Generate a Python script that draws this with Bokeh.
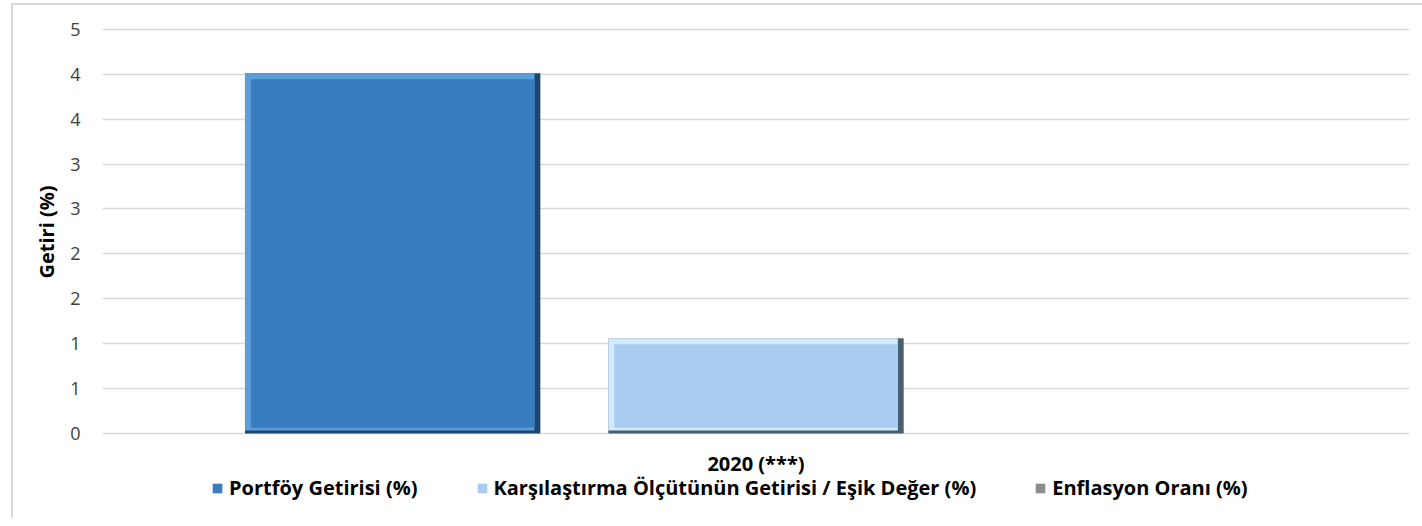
from bokeh.plotting import figure
from bokeh.models import (FactorRange, Range1d, FixedTicker, CustomJSTickFormatter,
                          Legend, LegendItem, ColumnDataSource, Title)
from bokeh.transform import dodge
from bokeh.core.properties import value
from bokeh.embed import file_html
from bokeh.resources import INLINE

# ---- data ----
categories = ["2020 (***)"]
series_names = ["Portföy Getirisi (%)",
                "Karşılaştırma Ölçütünün Getirisi / Eşik Değer (%)",
                "Enflasyon Oranı (%)"]
portfoy = [4.01]
karsilastirma = [1.06]
enflasyon = [0.0]
y_ticks = [0, 0.5, 1, 1.5, 2, 2.5, 3, 3.5, 4, 4.5]

# ---- styles ----
FONT = "Open Sans"
colors_main = ["#377DC0", "#A9CDF0", "#8C8C8C"]
colors_light = ["#5C9EDC", "#D2EBFF", "#B0B0B0"]
colors_dark = ["#1D4670", "#4A5E72", "#505050"]
offsets = [-0.278, 0.0, 0.278]
bar_w = 0.226
ex = 0.0045   # bevel in x (data units)
ey = 0.065    # bevel in y (data units)
Y_BOTTOM = -0.946  # frame extends below zero to hold category label and legend

p = figure(width=1422, height=518, x_range=FactorRange(factors=categories),
           y_range=Range1d(Y_BOTTOM, 4.52), output_backend="svg", toolbar_location=None,
           x_axis_location=None,
           min_border_left=102, min_border_right=13, min_border_top=27, min_border_bottom=0)
p.outline_line_color = None
p.background_fill_color = "white"
p.background_fill_alpha = 0
p.border_fill_alpha = 0
p.styles = {
    "background": ("linear-gradient(#D9D9D9, #D9D9D9) 11px 3px / 2px 100% no-repeat, "
                   "linear-gradient(#D9D9D9, #D9D9D9) 11px 3px / 100% 2px no-repeat, white"),
}

cols = {"portfoy": portfoy, "karsilastirma": karsilastirma, "enflasyon": enflasyon}
data = {"cat": categories, "base": [0.0]}
for c, vals in cols.items():
    data[c] = vals
    data[c + "_hib"] = [min(v, ey * 0.5) for v in vals]
    data[c + "_in"] = [max(v - ey, ey) for v in vals]
src = ColumnDataSource(data)

main_renderers = []
for i, c in enumerate(cols):
    # dark outer (right / bottom shade)
    p.vbar(x=dodge("cat", offsets[i], range=p.x_range), top=c, width=bar_w,
           source=src, fill_color=colors_dark[i], line_color=None)
    # light highlight (top / left)
    p.vbar(x=dodge("cat", offsets[i] - ex / 2, range=p.x_range), top=c, bottom=c + "_hib",
           width=bar_w - ex, source=src, fill_color=colors_light[i], line_color=None)
    # main face
    r = p.vbar(x=dodge("cat", offsets[i], range=p.x_range), top=c + "_in", bottom=ey,
               width=bar_w - 2 * ex, source=src, fill_color=colors_main[i], line_color=None)
    main_renderers.append(r)

# category label below the zero line
p.text(x="cat", y="base", text="cat", source=src, y_offset=30,
       text_align="center", text_baseline="middle",
       text_font=value(FONT), text_font_size="20px", text_font_style="bold",
       text_color="#000000")

# y axis
p.yaxis.ticker = FixedTicker(ticks=y_ticks)
p.yaxis.formatter = CustomJSTickFormatter(code="return Math.round(tick).toString();")
p.yaxis.axis_line_color = None
p.yaxis.major_tick_line_color = None
p.yaxis.minor_tick_line_color = None
p.yaxis.major_tick_out = 0
p.yaxis.major_tick_in = 0
p.yaxis.major_label_standoff = 22
p.yaxis.major_label_text_font = FONT
p.yaxis.major_label_text_font_size = "18px"
p.yaxis.major_label_text_color = "#404040"

ytitle = Title(text="Getiri (%)", align="right", offset=158, standoff=16,
               text_font=FONT, text_font_size="20px", text_font_style="bold",
               text_color="#000000")
p.add_layout(ytitle, "left")

p.xgrid.grid_line_color = None
p.ygrid.grid_line_color = "#D9D9D9"
p.ygrid.grid_line_width = 1.5

legend = Legend(items=[LegendItem(label=series_names[i], renderers=[main_renderers[i]])
                       for i in range(3)],
                orientation="horizontal", location=(109, 17),
                label_text_font=FONT, label_text_font_size="20px",
                label_text_font_style="bold", label_text_color="#000000",
                glyph_width=12, glyph_height=12, spacing=58, label_standoff=6,
                border_line_color=None, background_fill_alpha=0,
                padding=2, margin=0)
p.add_layout(legend, "center")

open("out.html", "w").write(file_html(p, INLINE))
